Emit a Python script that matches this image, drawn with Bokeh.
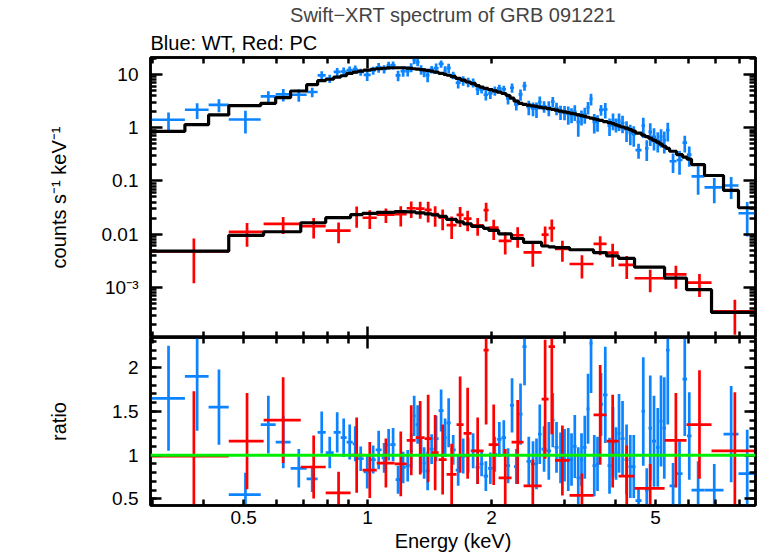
import numpy as np
from bokeh.plotting import figure
from bokeh.models import Range1d, LogAxis, LinearAxis, FixedTicker, Title, Span
from bokeh.layouts import column
from bokeh.embed import file_html
from bokeh.resources import INLINE

# ---------------- data ----------------
# WT mode (blue): bin edges (keV), model (counts/s/keV), data/model ratio and its error
wt_edges = [0.297, 0.360, 0.411, 0.460, 0.550, 0.598, 0.650, 0.711, 0.756, 0.791,
            0.827, 0.860, 0.889, 0.920, 0.946, 0.978, 1.017, 1.046, 1.081, 1.112,
            1.137, 1.169, 1.202, 1.237, 1.265, 1.286, 1.308, 1.337, 1.360, 1.383,
            1.414, 1.446, 1.487, 1.529, 1.555, 1.591, 1.636, 1.682, 1.730, 1.778,
            1.829, 1.870, 1.912, 1.961, 2.011, 2.062, 2.114, 2.168, 2.217, 2.267,
            2.325, 2.377, 2.431, 2.493, 2.549, 2.592, 2.644, 2.719, 2.788, 2.843,
            2.907, 2.973, 3.040, 3.100, 3.153, 3.215, 3.278, 3.334, 3.400, 3.458,
            3.516, 3.585, 3.646, 3.729, 3.823, 3.910,
            3.976, 4.043, 4.112, 4.205, 4.300, 4.385, 4.471, 4.624, 4.715, 4.808,
            4.903, 5.014, 5.113, 5.200, 5.303, 5.408, 5.623, 5.815, 5.963, 6.115,
            6.576, 7.313, 7.952, 8.745]
wt_model = [0.852, 1.138, 1.730, 2.582, 2.851, 3.646, 4.867, 6.387, 7.589,
            8.095, 8.826, 9.414, 10.40, 11.04, 11.53, 12.04, 12.46, 12.73, 13.01,
            13.18, 13.29, 13.29, 13.29, 13.06, 12.90, 12.73, 12.51, 12.30, 12.09,
            11.83, 11.53, 11.00, 10.44, 10.00, 9.620, 9.096, 8.379, 7.754, 7.177,
            6.668, 6.116, 5.734, 5.445, 5.148, 4.909, 4.621, 4.370, 4.009, 3.568,
            3.135, 2.851, 2.719, 2.638, 2.549, 2.495, 2.431, 2.349, 2.269, 2.202,
            2.127, 2.037, 1.968, 1.910, 1.853, 1.805, 1.730, 1.678, 1.621, 1.566,
            1.513, 1.461, 1.412, 1.364, 1.295, 1.241,
            1.188, 1.128, 1.081, 1.026, 0.9745, 0.9174, 0.8599, 0.7889, 0.7238, 0.6785,
            0.6330, 0.5808, 0.5328, 0.4888, 0.4465, 0.4061, 0.3598, 0.3121, 0.2802, 0.2561,
            0.2028, 0.1262, 0.0661, 0.0313]
wt_ratio = [1.65, 1.90, 1.55, 0.55, 1.35, 1.15, 0.85, 0.73, 1.26,
            1.03, 1.26, 1.20, 1.15, 1.13, 0.96, 0.81, 0.95, 1.06, 0.97,
            1.12, 1.12, 0.72, 0.86, 0.88, 1.05, 1.45, 1.35, 1.00, 0.91,
            0.82, 1.07, 1.19, 1.51, 1.20, 1.37, 1.06, 0.83, 0.99, 1.00,
            1.05, 0.86, 0.90, 0.76, 0.85, 1.01, 1.18, 1.20, 0.88, 1.57,
            0.87, 1.47, 2.24, 0.93, 0.90, 0.90, 1.24, 1.07, 1.05, 1.40,
            1.09, 0.97, 1.00, 0.95, 0.95, 1.10, 0.74, 0.95, 1.09, 1.53,
            2.28, 0.88, 0.90, 1.58, 1.69, 0.88,
            1.15, 1.02, 1.25, 1.19, 0.95, 0.87, 0.87, 0.48, 1.50, 0.60,
            1.31, 1.16, 1.09, 1.39, 1.31, 2.20, 0.65, 0.79, 1.87, 1.22,
            0.60, 0.60, 1.24, 0.79]
wt_ratio_err = [0.60, 0.62, 0.43, 0.25, 0.33, 0.30, 0.22, 0.15, 0.24,
                0.18, 0.23, 0.22, 0.20, 0.20, 0.14, 0.19, 0.16, 0.22, 0.17,
                0.18, 0.19, 0.16, 0.18, 0.18, 0.20, 0.23, 0.22, 0.20, 0.18,
                0.22, 0.17, 0.26, 0.24, 0.22, 0.28, 0.17, 0.18, 0.20, 0.20,
                0.20, 0.19, 0.14, 0.17, 0.18, 0.20, 0.20, 0.20, 0.20, 0.31,
                0.20, 0.35, 0.44, 0.28, 0.26, 0.29, 0.34, 0.26, 0.33, 0.31,
                0.29, 0.29, 0.30, 0.36, 0.30, 0.36, 0.35, 0.30, 0.36, 0.40,
                0.57, 0.35, 0.31, 0.36, 0.55, 0.32,
                0.40, 0.30, 0.45, 0.43, 0.40, 0.36, 0.36, 0.15, 0.62, 0.25,
                0.60, 0.52, 0.45, 0.52, 0.58, 0.85, 0.26, 0.37, 0.65, 0.50,
                0.33, 0.30, 0.55, 0.50]

# PC mode (red)
pc_edges = [0.297, 0.460, 0.559, 0.688, 0.791, 0.909, 0.972, 1.052, 1.163, 1.244,
            1.308, 1.375, 1.430, 1.487, 1.555, 1.644, 1.710, 1.788, 1.912, 1.967,
            2.080, 2.236, 2.391, 2.645, 2.750, 2.850, 3.092, 3.536, 3.803, 4.067,
            4.447, 5.260, 5.947, 6.839, 8.745]
pc_model = [0.0048, 0.0095, 0.0111, 0.0164, 0.0204, 0.0232, 0.0245, 0.0256, 0.0264,
            0.0262, 0.0251, 0.0240, 0.0230, 0.0215, 0.0189, 0.0170, 0.0156, 0.0140,
            0.0128, 0.0118, 0.0101, 0.0083, 0.0070, 0.0060, 0.0058, 0.0056, 0.0051,
            0.0045, 0.0039, 0.0035, 0.0024, 0.0015, 0.00091, 0.00034]
pc_ratio = [0.99, 1.16, 1.40, 0.865, 0.57, 1.00, 0.83, 0.91, 0.90, 1.17, 1.20, 1.19,
            1.03, 0.95, 0.78, 1.35, 1.25, 1.05, 2.20, 1.12, 0.74, 1.15, 0.65, 1.64,
            2.24, 0.94, 0.54, 1.46, 1.16, 0.76, 0.62, 1.17, 1.35, 1.05]
pc_ratio_err = [0.74, 0.55, 0.49, 0.36, 0.24, 0.43, 0.32, 0.28, 0.37, 0.40, 0.42, 0.50,
                0.43, 0.40, 0.35, 0.55, 0.52, 0.38, 0.85, 0.46, 0.33, 0.48, 0.30, 0.68,
                1.00, 0.40, 0.25, 0.57, 0.53, 0.35, 0.28, 0.54, 0.62, 0.67]

x_tick_values = [0.5, 1, 2, 5]
x_tick_labels = ["0.5", "1", "2", "5"]
y_tick_values = [0.001, 0.01, 0.1, 1, 10]
y_tick_labels = ["10\u207b\u00b3", "0.01", "0.1", "1", "10"]
r_tick_values = [0.5, 1, 1.5, 2]
r_tick_labels = ["0.5", "1", "1.5", "2"]

TITLE = "Swift\u2212XRT spectrum of GRB 091221"
SUBTITLE = "Blue: WT, Red: PC"

# ---------------- styling ----------------
BLUE = "#0d84ff"
RED = "#ff0000"
GREEN = "#00ee00"
FONT = "Liberation Sans"
FS = "19px"      # tick labels
FS_L = "20px"    # titles / axis labels
LW = 2.7

x_minor = [0.3, 0.4, 0.5, 0.6, 0.7, 0.8, 0.9, 2, 3, 4, 5, 6, 7, 8]
x_minor_b = [0.3, 0.4, 0.6, 0.7, 0.8, 0.9, 3, 4, 6, 7, 8]
y_minor = [k * 10.0 ** e for e in range(-4, 2) for k in range(2, 10)]
r_minor = [round(0.4 + 0.1 * i, 1) for i in range(20)]

x_range = Range1d(0.297, 8.745)


def bins(edges, model, ratio, err):
    e = np.array(edges, dtype=float)
    lo, hi = e[:-1], e[1:]
    ctr = 0.5 * (lo + hi)
    m = np.array(model, dtype=float)
    r = np.array(ratio, dtype=float)
    s = np.array(err, dtype=float)
    val = r * m
    sig = s * m
    sx, sy = [], []
    for i in range(len(m)):
        sx += [lo[i], hi[i]]
        sy += [m[i], m[i]]
    return dict(lo=lo, hi=hi, ctr=ctr, val=val, vlo=np.maximum(val - sig, 1e-8),
                vhi=val + sig, r=r, rlo=r - s, rhi=r + s, sx=sx, sy=sy)


def style_axis(ax, major_len, minor_len, labels):
    ax.major_tick_in = major_len
    ax.major_tick_out = 0
    ax.minor_tick_in = minor_len
    ax.minor_tick_out = 0
    ax.major_tick_line_width = 2.5
    ax.minor_tick_line_width = 2.5
    ax.major_tick_line_color = "black"
    ax.minor_tick_line_color = "black"
    ax.axis_line_width = 2.5
    ax.axis_line_color = "black"
    ax.major_label_text_font = FONT
    ax.axis_label_text_font = FONT
    ax.axis_label_text_font_style = "normal"
    ax.axis_label_text_font_size = FS_L
    ax.axis_label_text_color = "black"
    if labels:
        ax.major_label_text_color = "black"
        ax.major_label_text_font_size = FS
        ax.major_label_standoff = 5
    else:
        ax.major_label_text_color = None
        ax.major_label_text_font_size = "1px"
        ax.major_label_standoff = 0


def make_fig(height, y_type, y_range, top, bottom):
    p = figure(width=758, height=height, x_axis_type="log", y_axis_type=y_type,
               x_range=x_range, y_range=y_range, output_backend="svg",
               toolbar_location=None,
               min_border_left=150, min_border_right=3,
               min_border_top=top, min_border_bottom=bottom,
               background_fill_color="white", border_fill_color="white")
    p.grid.visible = False
    p.outline_line_color = "black"
    p.outline_line_width = 2.5
    return p


wt = bins(wt_edges, wt_model, wt_ratio, wt_ratio_err)
pc = bins(pc_edges, pc_model, pc_ratio, pc_ratio_err)

# ---------------- top panel ----------------
p1 = make_fig(337, "log", Range1d(1.15e-4, 20.7), 57, 0)
ax = p1.xaxis[0]
ax.ticker = FixedTicker(ticks=[1], minor_ticks=x_minor)
style_axis(ax, 11, 6, False)
ay = p1.yaxis[0]
ay.ticker = FixedTicker(ticks=y_tick_values, minor_ticks=y_minor)
ay.major_label_overrides = dict(zip(y_tick_values, y_tick_labels))
style_axis(ay, 12, 6, True)
ay.major_label_standoff = 12
ay.axis_label = "counts s\u207b\u00b9 keV\u207b\u00b9"
ay.axis_label_standoff = 29

top1 = LogAxis(ticker=FixedTicker(ticks=[1], minor_ticks=x_minor))
style_axis(top1, 11, 6, False)
p1.add_layout(top1, "above")
right1 = LogAxis(ticker=FixedTicker(ticks=y_tick_values, minor_ticks=y_minor))
style_axis(right1, 12, 6, False)
p1.add_layout(right1, "right")

p1.title.text = TITLE
p1.title.align = "center"
p1.title.text_font = FONT
p1.title.text_font_size = FS_L
p1.title.text_font_style = "normal"
p1.title.standoff = 0
p1.add_layout(Title(text=SUBTITLE, align="left", text_font=FONT, text_font_size=FS_L,
                    text_font_style="normal", text_color="black", standoff=8), "above")

for d, c in ((wt, BLUE), (pc, RED)):
    p1.segment(x0=d["lo"], y0=d["val"], x1=d["hi"], y1=d["val"], line_color=c, line_width=LW)
    p1.segment(x0=d["ctr"], y0=d["vlo"], x1=d["ctr"], y1=d["vhi"], line_color=c, line_width=LW)
for d in (wt, pc):
    p1.line(d["sx"], d["sy"], line_color="black", line_width=3.2)

# ---------------- ratio panel ----------------
p2 = make_fig(219, "linear", Range1d(0.425, 2.345), 0, 51)
p2.title.visible = False
bx = p2.xaxis[0]
bx.ticker = FixedTicker(ticks=x_tick_values, minor_ticks=x_minor_b)
bx.major_label_overrides = dict(zip(x_tick_values, x_tick_labels))
style_axis(bx, 6, 6, True)
bx.axis_label = "Energy (keV)"
bx.axis_label_standoff = 3
by = p2.yaxis[0]
by.ticker = FixedTicker(ticks=r_tick_values, minor_ticks=r_minor)
by.major_label_overrides = dict(zip(r_tick_values, r_tick_labels))
style_axis(by, 11, 6, True)
by.major_label_standoff = 12
by.axis_label = "ratio"
by.axis_label_standoff = 39

top2 = LogAxis(ticker=FixedTicker(ticks=[1], minor_ticks=x_minor))
style_axis(top2, 11, 6, False)
p2.add_layout(top2, "above")
right2 = LinearAxis(ticker=FixedTicker(ticks=r_tick_values, minor_ticks=r_minor))
style_axis(right2, 11, 6, False)
p2.add_layout(right2, "right")

for d, c in ((wt, BLUE), (pc, RED)):
    p2.segment(x0=d["lo"], y0=d["r"], x1=d["hi"], y1=d["r"], line_color=c, line_width=LW)
    p2.segment(x0=d["ctr"], y0=d["rlo"], x1=d["ctr"], y1=d["rhi"], line_color=c, line_width=LW)
p2.add_layout(Span(location=1.0, dimension="width", line_color=GREEN, line_width=3))

layout = column(p1, p2, spacing=0)
with open("out.html", "w", encoding="utf-8") as f:
    f.write(file_html(layout, INLINE))
